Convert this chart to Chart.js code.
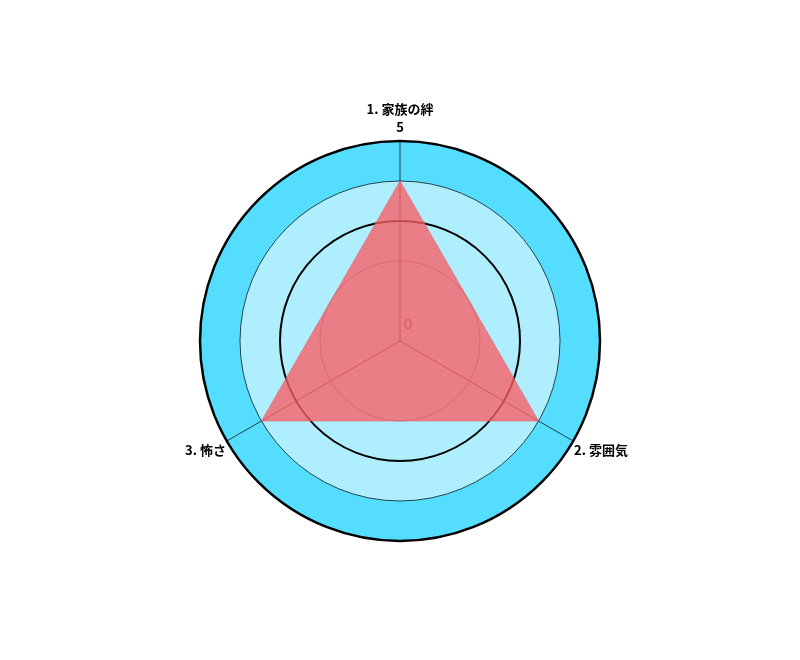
<!DOCTYPE html>
<html>
<head>
<meta charset="utf-8">
<script src="https://cdn.jsdelivr.net/npm/chart.js@4.4.1/dist/chart.umd.min.js"></script>
<style>
  html, body { margin: 0; padding: 0; background: #ffffff; }
  #wrap { width: 800px; height: 660px; }
</style>
</head>
<body>
<div id="wrap"><canvas id="radar"></canvas></div>
<script>
const axisLabels = [['1. 家族の絆', '5'], '2. 雰囲気', '3. 怖さ'];
const scores = [4, 4, 4];
const scaleMin = 0;
const scaleMax = 5;
const centerTickLabel = '0';
const bandValues = [5, 4];
const bandColors = ['#55DDFF', '#AEEEFF'];

// background discs + the "0" tick near the center
const ringPlugin = {
    id: 'rings',
    beforeDraw(chart) {
        const r = chart.scales.r;
        const ctx = chart.ctx;
        ctx.save();
        bandValues.forEach((v, i) => {
            ctx.beginPath();
            ctx.arc(r.xCenter, r.yCenter, r.getDistanceFromCenterForValue(v), 0, Math.PI * 2);
            ctx.fillStyle = bandColors[i];
            ctx.fill();
        });
        ctx.restore();
    },
    beforeDatasetsDraw(chart) {
        const r = chart.scales.r;
        const ctx = chart.ctx;
        ctx.save();
        ctx.font = '15px "Noto Sans", "DejaVu Sans", sans-serif';
        ctx.fillStyle = '#555555';
        ctx.textAlign = 'center';
        ctx.textBaseline = 'middle';
        ctx.fillText(centerTickLabel, r.xCenter + 8, r.yCenter - 16);
        ctx.restore();
    }
};

new Chart(document.getElementById('radar'), {
    type: 'radar',
    data: {
        labels: axisLabels,
        datasets: [{
            data: scores,
            backgroundColor: 'rgba(250, 95, 100, 0.78)',
            borderColor: 'rgba(235, 100, 110, 0.6)',
            borderWidth: 1,
            pointRadius: 0,
        }],
    },
    options: {
        responsive: true,
        maintainAspectRatio: false,
        animation: false,
        layout: { padding: { top: 80, bottom: 98, left: 0, right: 0 } },
        plugins: {
            legend: { display: false },
            tooltip: { enabled: false },
        },
        scales: {
            r: {
                min: scaleMin,
                max: scaleMax,
                ticks: { display: false, stepSize: 1 },
                grid: {
                    circular: true,
                    color: (c) => {
                        const v = c.tick ? c.tick.value : 0;
                        if (v === 3 || v === 5) return '#000000';
                        if (v === 4) return 'rgba(0, 0, 0, 0.7)';
                        if (v === 2) return 'rgba(0, 0, 0, 0.4)';
                        return 'rgba(0, 0, 0, 0)';
                    },
                    lineWidth: (c) => {
                        const v = c.tick ? c.tick.value : 0;
                        if (v === 5) return 2.5;
                        if (v === 3) return 2;
                        return 1;
                    },
                },
                angleLines: { color: 'rgba(0, 0, 0, 0.7)', lineWidth: 1 },
                pointLabels: {
                    color: '#000000',
                    padding: (c) => (c.index === 0 ? 5 : 1),
                    font: { family: '"Noto Sans CJK JP", "Noto Sans", sans-serif', size: 13, weight: 'bold', lineHeight: '18px' },
                },
            },
        },
    },
    plugins: [ringPlugin],
});
</script>
</body>
</html>
